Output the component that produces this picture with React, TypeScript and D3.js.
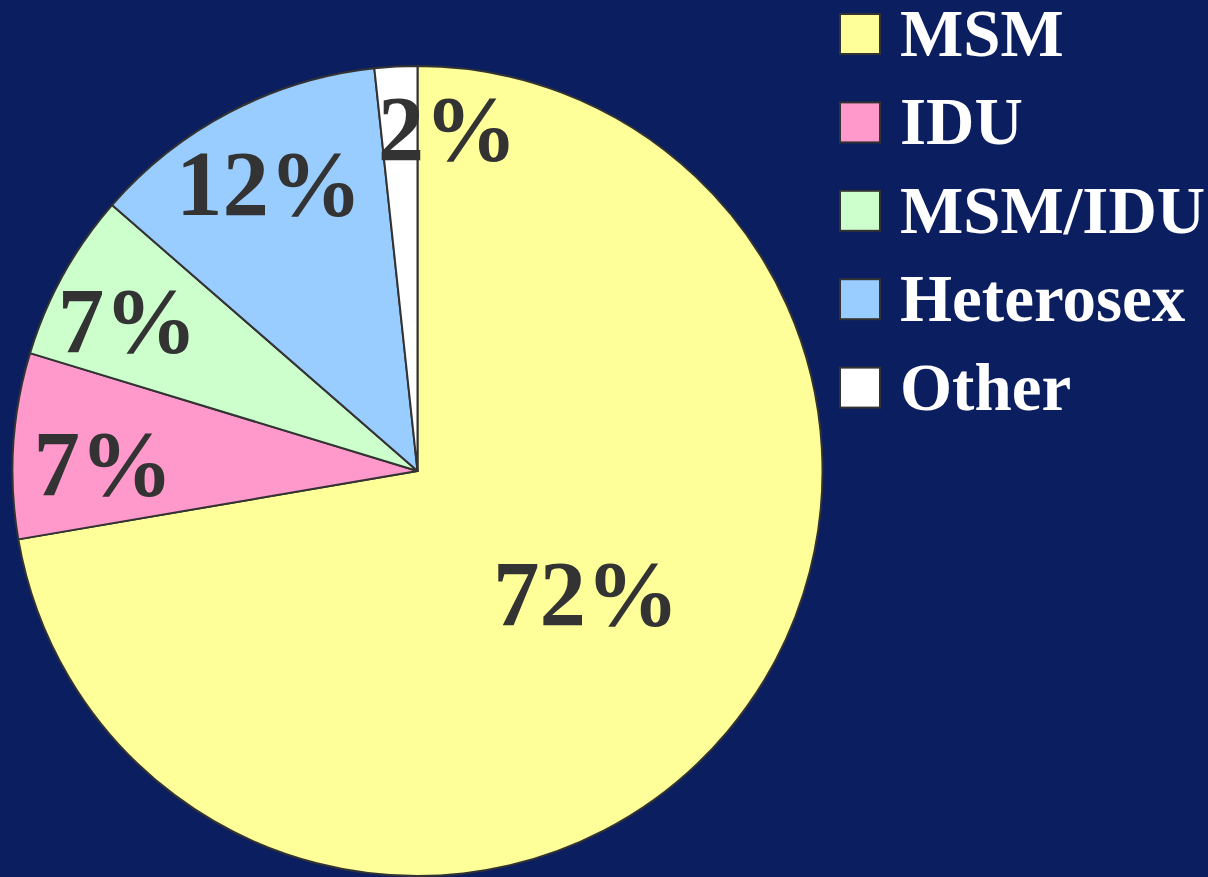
import React from "react";
import * as d3 from "d3";

const categories = ["MSM", "IDU", "MSM/IDU", "Heterosex", "Other"];
const values = [72.3, 7.4, 6.7, 11.9, 1.7];
const labels = ["72%", "7%", "7%", "12%", "2%"];
const colors = ["#FFFF99", "#FF99CC", "#CCFFCC", "#99CCFF", "#FFFFFF"];

const W = 1208;
const H = 877;
const CX = 417.5;
const CY = 471;
const R = 405;
const labelRadius = [0.513, 0.7755, 0.807, 0.799, 0.841];
const labelShift: [number, number][] = [
  [9.7, -11.5],
  [-0.7, 12.1],
  [-4.1, 7.4],
  [1.2, -0.6],
  [48.2, -2.6],
];

export default function App() {
  const pie = d3.pie<number>().sort(null).value((d) => d).startAngle(0).endAngle(2 * Math.PI);
  const arcs = pie(values);
  const arc = d3.arc<d3.PieArcDatum<number>>().innerRadius(0).outerRadius(R);

  const legendY = d3.scaleLinear().domain([0, 1]).range([0, 88.4]);

  return (
    <svg
      width={W}
      height={H}
      style={{ position: "absolute", left: 0, top: 0, display: "block" }}
    >
      <rect x={0} y={0} width={W} height={H} fill="#0b1e5f" />
      <g transform={`translate(${CX},${CY})`}>
        {arcs.map((a, i) => (
          <path
            key={i}
            d={arc(a) || ""}
            fill={colors[i]}
            stroke="#333333"
            strokeWidth={2}
            strokeLinejoin="round"
          />
        ))}
        {arcs.map((a, i) => {
          const mid = (a.startAngle + a.endAngle) / 2;
          const r = R * labelRadius[i];
          const x = Math.sin(mid) * r + labelShift[i][0];
          const y = -Math.cos(mid) * r + labelShift[i][1];
          return (
            <text
              key={"l" + i}
              x={x}
              y={y}
              dy="0.34em"
              textAnchor="middle"
              fontFamily="'Liberation Serif', 'Times New Roman', serif"
              fontWeight="bold"
              fontSize={93}
              fill="#333333"
            >
              {labels[i]}
            </text>
          );
        })}
      </g>
      <g>
        {categories.map((c, i) => (
          <g key={c} transform={`translate(0,${legendY(i)})`}>
            <rect
              x={840}
              y={14}
              width={40}
              height={40}
              fill={colors[i]}
              stroke="#333333"
              strokeWidth={2}
            />
            <text
              x={900}
              y={56}
              fontFamily="'Liberation Serif', 'Times New Roman', serif"
              fontWeight="bold"
              fontSize={67}
              fill="#FFFFFF"
            >
              {c}
            </text>
          </g>
        ))}
      </g>
    </svg>
  );
}
